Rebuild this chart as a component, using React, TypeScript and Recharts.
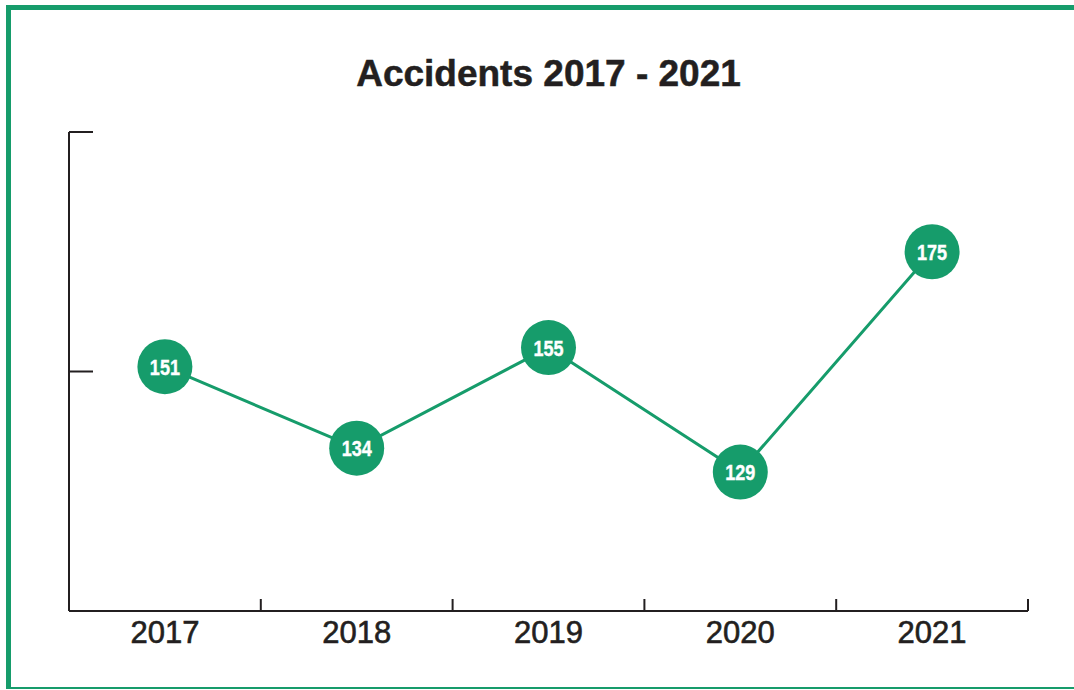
import { CartesianGrid, Line, LineChart, XAxis, YAxis } from "recharts";

const GREEN = "#169c6b";
const INK = "#231f20";

const years = ["2017", "2018", "2019", "2020", "2021"];
const accidents = [151, 134, 155, 129, 175];
const yTicks = [100, 150, 200];

const W = 1074;
const H = 690;
const MARGIN = { top: 132, right: 46, left: 68, bottom: 29 };
const HALF_BAND = (W - 69 - MARGIN.right) / years.length / 2;

const data = years.map((year, i) => ({ year, value: accidents[i] }));

function YTick({ x, y }: any) {
  return <line x1={x} x2={x + 24} y1={y} y2={y} stroke={INK} strokeWidth={2} />;
}

function XTick({ x, y, payload }: any) {
  return (
    <g>
      <line x1={x + HALF_BAND} x2={x + HALF_BAND} y1={y - 12} y2={y} stroke={INK} strokeWidth={2} />
      <text
        x={x}
        y={y + 32}
        textAnchor="middle"
        fontFamily="'Liberation Sans', Arial, sans-serif"
        fontSize={31}
        fill={INK}
        stroke={INK}
        strokeWidth={0.6}
      >
        {payload.value}
      </text>
    </g>
  );
}

function ValueDot({ cx, cy, value, index }: any) {
  return (
    <g key={`dot-${index}`}>
      <circle cx={cx} cy={cy} r={27.5} fill={GREEN} />
      <text
        transform={`translate(${cx} ${cy + 8}) scale(0.82 1)`}
        textAnchor="middle"
        fontFamily="'Liberation Sans', Arial, sans-serif"
        fontWeight="bold"
        fontSize={22}
        fill="#ffffff"
        stroke="#ffffff"
        strokeWidth={0.4}
      >
        {value}
      </text>
    </g>
  );
}

export default function App() {
  return (
    <div style={{ position: "relative", width: W, height: H, overflow: "hidden", background: "#fff" }}>
      <style>{`body{margin:0}`}</style>
      <div
        style={{
          position: "absolute",
          left: 6,
          top: 5,
          width: 1200,
          height: 677,
          borderLeft: `5px solid ${GREEN}`,
          borderTop: `5px solid ${GREEN}`,
          borderBottom: `2px solid ${GREEN}`,
        }}
      />
      <div style={{ position: "absolute", left: 0, top: 0 }}>
        <LineChart width={W} height={H} data={data} margin={MARGIN}>
          <CartesianGrid stroke="none" />
          <XAxis
            dataKey="year"
            scale="band"
            height={50}
            tickSize={0}
            tickMargin={0}
            tickLine={false}
            axisLine={{ stroke: INK, strokeWidth: 2 }}
            tick={<XTick />}
            interval={0}
          />
          <YAxis
            width={1}
            domain={[100, 200]}
            ticks={yTicks}
            tickSize={0}
            tickMargin={0}
            tickLine={false}
            axisLine={{ stroke: INK, strokeWidth: 2 }}
            tick={<YTick />}
          />
          <Line
            type="linear"
            dataKey="value"
            stroke={GREEN}
            strokeWidth={3}
            dot={<ValueDot />}
            activeDot={false}
            isAnimationActive={false}
          />
        </LineChart>
      </div>
      <svg width={W} height={H} style={{ position: "absolute", left: 0, top: 0, pointerEvents: "none" }}>
        <text
          x={548.5}
          y={86}
          textAnchor="middle"
          fontFamily="'Liberation Sans', Arial, sans-serif"
          fontWeight="bold"
          fontSize={37}
          fill={INK}
          stroke={INK}
          strokeWidth={0.5}
        >
          Accidents 2017 - 2021
        </text>
      </svg>
    </div>
  );
}
